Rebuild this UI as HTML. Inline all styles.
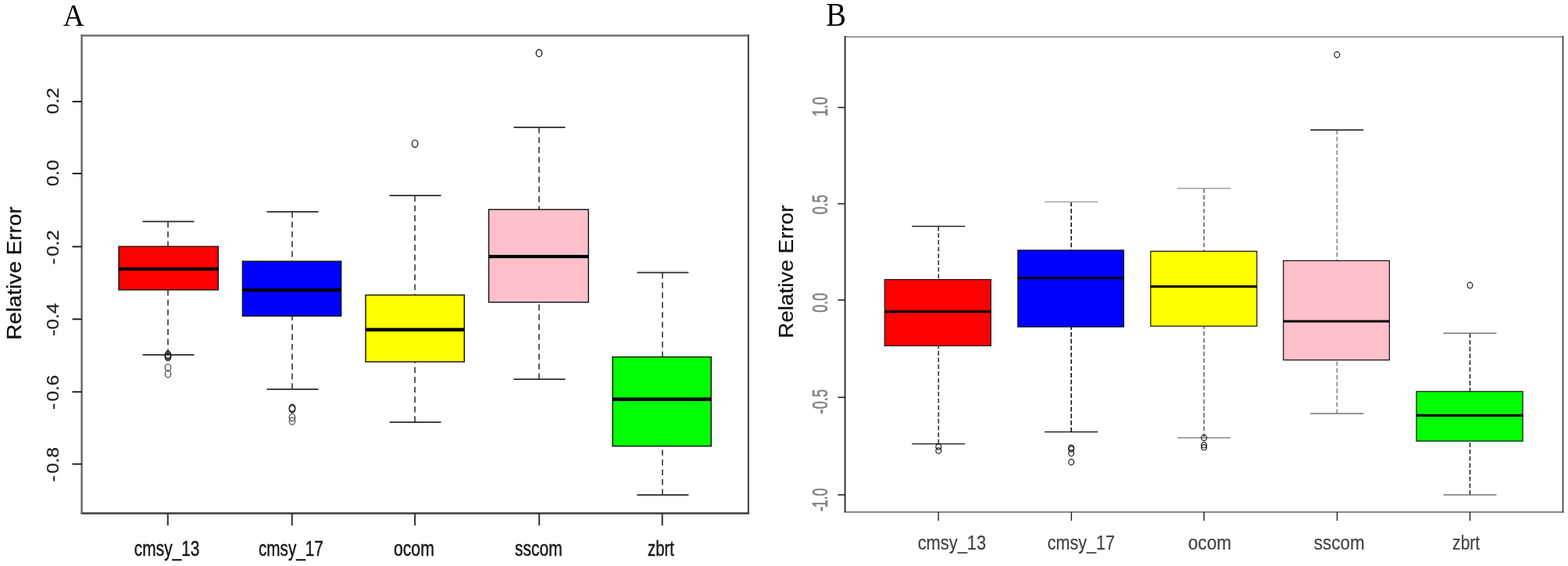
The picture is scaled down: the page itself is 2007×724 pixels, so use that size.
<!DOCTYPE html>
<html><head><meta charset="utf-8"><title>Relative Error boxplots</title>
<style>html,body{margin:0;padding:0;background:#fff;}svg{display:block;}</style></head>
<body><svg width="2007" height="724" viewBox="0 0 2007 724">
<rect width="2007" height="724" fill="#fff"/>
<text transform="translate(80.80 33.40) scale(0.9414 0.9923)" style="font-family:'Liberation Serif','Times New Roman',serif;font-size:40px;fill:#000;stroke:#000;stroke-width:0px">A</text>
<text transform="translate(1057.33 33.10) scale(0.9667 1.0462)" style="font-family:'Liberation Serif','Times New Roman',serif;font-size:40px;fill:#000;stroke:#000;stroke-width:0px">B</text>
<line x1="215" y1="283.4" x2="215" y2="315.3" stroke="#4a4a4a" stroke-width="1.8" stroke-dasharray="7.6 5"/>
<line x1="215" y1="453.8" x2="215" y2="370.8" stroke="#4a4a4a" stroke-width="1.8" stroke-dasharray="7.6 5"/>
<line x1="182.5" y1="283.4" x2="248.5" y2="283.4" stroke="#2a2a2a" stroke-width="1.8"/>
<line x1="182.5" y1="453.8" x2="248.5" y2="453.8" stroke="#2a2a2a" stroke-width="1.8"/>
<rect x="152" y="315.3" width="127.4" height="55.5" fill="#ff0000" stroke="#111" stroke-width="1.4"/>
<line x1="152" y1="344.1" x2="279.4" y2="344.1" stroke="#000" stroke-width="4.4"/>
<ellipse cx="215" cy="453.6" rx="3.7" ry="4.6" fill="none" stroke="#222" stroke-width="1.4"/>
<ellipse cx="215" cy="455.2" rx="3.7" ry="4.6" fill="none" stroke="#222" stroke-width="1.4"/>
<ellipse cx="215" cy="456.8" rx="3.7" ry="4.6" fill="none" stroke="#222" stroke-width="1.4"/>
<ellipse cx="215" cy="470.25" rx="3.7" ry="4.6" fill="none" stroke="#555" stroke-width="1.4"/>
<ellipse cx="215" cy="478.25" rx="3.7" ry="4.6" fill="none" stroke="#555" stroke-width="1.4"/>
<line x1="374" y1="270.8" x2="374" y2="334.2" stroke="#4a4a4a" stroke-width="1.8" stroke-dasharray="7.6 5"/>
<line x1="374" y1="497.9" x2="374" y2="404.3" stroke="#4a4a4a" stroke-width="1.8" stroke-dasharray="7.6 5"/>
<line x1="341.5" y1="270.8" x2="407.5" y2="270.8" stroke="#2a2a2a" stroke-width="1.8"/>
<line x1="341.5" y1="497.9" x2="407.5" y2="497.9" stroke="#2a2a2a" stroke-width="1.8"/>
<rect x="310.4" y="334.2" width="126.3" height="70.1" fill="#0000ff" stroke="#111" stroke-width="1.4"/>
<line x1="310.4" y1="371.1" x2="436.7" y2="371.1" stroke="#000" stroke-width="4.4"/>
<ellipse cx="374" cy="521.8" rx="3.7" ry="4.6" fill="none" stroke="#222" stroke-width="1.4"/>
<ellipse cx="374" cy="523.2" rx="3.7" ry="4.6" fill="none" stroke="#222" stroke-width="1.4"/>
<ellipse cx="374" cy="534" rx="3.7" ry="4.6" fill="none" stroke="#555" stroke-width="1.4"/>
<ellipse cx="374" cy="538.6" rx="3.7" ry="4.6" fill="none" stroke="#666" stroke-width="1.4"/>
<line x1="531.1" y1="250.1" x2="531.1" y2="377.4" stroke="#4a4a4a" stroke-width="1.8" stroke-dasharray="7.6 5"/>
<line x1="531.1" y1="540.1" x2="531.1" y2="462.8" stroke="#4a4a4a" stroke-width="1.8" stroke-dasharray="7.6 5"/>
<line x1="498.6" y1="250.1" x2="564.6" y2="250.1" stroke="#2a2a2a" stroke-width="1.8"/>
<line x1="498.6" y1="540.1" x2="564.6" y2="540.1" stroke="#2a2a2a" stroke-width="1.8"/>
<rect x="468" y="377.4" width="126.3" height="85.4" fill="#ffff00" stroke="#111" stroke-width="1.4"/>
<line x1="468" y1="421.7" x2="594.3" y2="421.7" stroke="#000" stroke-width="4.4"/>
<ellipse cx="531.1" cy="183.7" rx="3.7" ry="4.6" fill="none" stroke="#222" stroke-width="1.4"/>
<line x1="690" y1="162.9" x2="690" y2="268" stroke="#4a4a4a" stroke-width="1.8" stroke-dasharray="7.6 5"/>
<line x1="690" y1="485.2" x2="690" y2="386.6" stroke="#4a4a4a" stroke-width="1.8" stroke-dasharray="7.6 5"/>
<line x1="657.5" y1="162.9" x2="723.5" y2="162.9" stroke="#2a2a2a" stroke-width="1.8"/>
<line x1="657.5" y1="485.2" x2="723.5" y2="485.2" stroke="#2a2a2a" stroke-width="1.8"/>
<rect x="625.6" y="268" width="127.6" height="118.6" fill="#ffc0cb" stroke="#111" stroke-width="1.4"/>
<line x1="625.6" y1="328.1" x2="753.2" y2="328.1" stroke="#000" stroke-width="4.4"/>
<ellipse cx="690" cy="67.9" rx="3.7" ry="4.6" fill="none" stroke="#222" stroke-width="1.4"/>
<line x1="847.9" y1="348.6" x2="847.9" y2="456.6" stroke="#4a4a4a" stroke-width="1.8" stroke-dasharray="7.6 5"/>
<line x1="847.9" y1="633.2" x2="847.9" y2="570.7" stroke="#4a4a4a" stroke-width="1.8" stroke-dasharray="7.6 5"/>
<line x1="815.4" y1="348.6" x2="881.4" y2="348.6" stroke="#2a2a2a" stroke-width="1.8"/>
<line x1="815.4" y1="633.2" x2="881.4" y2="633.2" stroke="#2a2a2a" stroke-width="1.8"/>
<rect x="784.1" y="456.6" width="126.2" height="114.1" fill="#00ff00" stroke="#111" stroke-width="1.4"/>
<line x1="784.1" y1="510.7" x2="910.3" y2="510.7" stroke="#000" stroke-width="4.4"/>
<line x1="103.6" y1="45.5" x2="958.9" y2="45.5" stroke="#6e6e6e" stroke-width="2.6"/>
<line x1="103.6" y1="656.6" x2="958.9" y2="656.6" stroke="#4a4a4a" stroke-width="2.6"/>
<line x1="104.6" y1="44.5" x2="104.6" y2="657.6" stroke="#666" stroke-width="2.4"/>
<line x1="957.9" y1="44.5" x2="957.9" y2="657.6" stroke="#3c3c3c" stroke-width="2.0"/>
<line x1="92.5" y1="129.9" x2="104.6" y2="129.9" stroke="#181818" stroke-width="1.9"/>
<line x1="92.5" y1="221.9" x2="104.6" y2="221.9" stroke="#181818" stroke-width="1.9"/>
<line x1="92.5" y1="315.5" x2="104.6" y2="315.5" stroke="#181818" stroke-width="1.9"/>
<line x1="92.5" y1="408.3" x2="104.6" y2="408.3" stroke="#181818" stroke-width="1.9"/>
<line x1="92.5" y1="501.3" x2="104.6" y2="501.3" stroke="#181818" stroke-width="1.9"/>
<line x1="92.5" y1="593.6" x2="104.6" y2="593.6" stroke="#181818" stroke-width="1.9"/>
<line x1="214.8" y1="656.6" x2="214.8" y2="672.2" stroke="#333" stroke-width="2.0"/>
<line x1="373.8" y1="656.6" x2="373.8" y2="672.2" stroke="#333" stroke-width="2.0"/>
<line x1="531.1" y1="656.6" x2="531.1" y2="672.2" stroke="#333" stroke-width="2.0"/>
<line x1="690.2" y1="656.6" x2="690.2" y2="672.2" stroke="#333" stroke-width="2.0"/>
<line x1="847.7" y1="656.6" x2="847.7" y2="672.2" stroke="#333" stroke-width="2.0"/>
<text transform="translate(26.60 434.83) rotate(-90) scale(1.1634 1.0353)" style="font-family:'Liberation Sans',Arial,sans-serif;font-size:24px;fill:#111;stroke:#111;stroke-width:0.3px">Relative Error</text>
<text transform="translate(75.20 145.96) rotate(-90) scale(1.1069 1.0400)" style="font-family:'Liberation Sans',Arial,sans-serif;font-size:22px;fill:#1e1e1e;stroke:#1e1e1e;stroke-width:0.25px">0.2</text>
<text transform="translate(75.20 238.26) rotate(-90) scale(1.1069 1.0400)" style="font-family:'Liberation Sans',Arial,sans-serif;font-size:22px;fill:#1e1e1e;stroke:#1e1e1e;stroke-width:0.25px">0.0</text>
<text transform="translate(75.20 338.41) rotate(-90) scale(1.1069 1.0400)" style="font-family:'Liberation Sans',Arial,sans-serif;font-size:22px;fill:#1e1e1e;stroke:#1e1e1e;stroke-width:0.25px">-<tspan dx="2.03">0.2</tspan></text>
<text transform="translate(75.20 429.71) rotate(-90) scale(1.1069 1.0400)" style="font-family:'Liberation Sans',Arial,sans-serif;font-size:22px;fill:#1e1e1e;stroke:#1e1e1e;stroke-width:0.25px">-<tspan dx="0.04">0.4</tspan></text>
<text transform="translate(75.20 523.91) rotate(-90) scale(1.1069 1.0400)" style="font-family:'Liberation Sans',Arial,sans-serif;font-size:22px;fill:#1e1e1e;stroke:#1e1e1e;stroke-width:0.25px">-<tspan dx="2.03">0.6</tspan></text>
<text transform="translate(75.20 616.21) rotate(-90) scale(1.1069 1.0400)" style="font-family:'Liberation Sans',Arial,sans-serif;font-size:22px;fill:#1e1e1e;stroke:#1e1e1e;stroke-width:0.25px">-<tspan dx="2.12">0.8</tspan></text>
<text transform="translate(171.83 710.82) scale(0.7745 0.9960)" style="font-family:'Liberation Sans',Arial,sans-serif;font-size:27px;fill:#1a1a1a;stroke:#1a1a1a;stroke-width:0.5px">cmsy_13</text>
<text transform="translate(330.93 710.82) scale(0.7679 0.9960)" style="font-family:'Liberation Sans',Arial,sans-serif;font-size:27px;fill:#1a1a1a;stroke:#1a1a1a;stroke-width:0.5px">cmsy_17</text>
<text transform="translate(503.91 710.82) scale(0.7875 0.9960)" style="font-family:'Liberation Sans',Arial,sans-serif;font-size:27px;fill:#1a1a1a;stroke:#1a1a1a;stroke-width:0.5px">ocom</text>
<text transform="translate(658.92 710.82) scale(0.7803 0.9960)" style="font-family:'Liberation Sans',Arial,sans-serif;font-size:27px;fill:#1a1a1a;stroke:#1a1a1a;stroke-width:0.5px">sscom</text>
<text transform="translate(828.95 710.82) scale(0.7545 0.9960)" style="font-family:'Liberation Sans',Arial,sans-serif;font-size:27px;fill:#1a1a1a;stroke:#1a1a1a;stroke-width:0.5px">zbrt</text>
<line x1="1201.3" y1="289.6" x2="1201.3" y2="357.6" stroke="#333" stroke-width="1.6" stroke-dasharray="5.8 2.9"/>
<line x1="1201.3" y1="567.75" x2="1201.3" y2="442.3" stroke="#333" stroke-width="1.6" stroke-dasharray="5.8 2.9"/>
<line x1="1167.3" y1="289.6" x2="1235.3" y2="289.6" stroke="#222" stroke-width="1.5"/>
<line x1="1167.3" y1="567.75" x2="1235.3" y2="567.75" stroke="#333" stroke-width="1.5"/>
<rect x="1132.3" y="357.6" width="136" height="84.7" fill="#ff0000" stroke="#111" stroke-width="1.2"/>
<line x1="1132.3" y1="398.6" x2="1268.3" y2="398.6" stroke="#000" stroke-width="3.2"/>
<ellipse cx="1201.3" cy="571.5" rx="3.4" ry="3.7" fill="none" stroke="#1a1a1a" stroke-width="1.2"/>
<ellipse cx="1201.3" cy="576.5" rx="3.4" ry="3.7" fill="none" stroke="#1a1a1a" stroke-width="1.2"/>
<line x1="1371.2" y1="258.3" x2="1371.2" y2="320" stroke="#151515" stroke-width="1.6" stroke-dasharray="5.8 2.9"/>
<line x1="1371.2" y1="552.5" x2="1371.2" y2="418.1" stroke="#151515" stroke-width="1.6" stroke-dasharray="5.8 2.9"/>
<line x1="1337.2" y1="258.3" x2="1405.2" y2="258.3" stroke="#a8a8a8" stroke-width="1.5"/>
<line x1="1337.2" y1="552.5" x2="1405.2" y2="552.5" stroke="#222" stroke-width="1.5"/>
<rect x="1302.8" y="320" width="135.6" height="98.1" fill="#0000ff" stroke="#111" stroke-width="1.2"/>
<line x1="1302.8" y1="355.5" x2="1438.4" y2="355.5" stroke="#000" stroke-width="3.2"/>
<ellipse cx="1371.2" cy="572.8" rx="3.4" ry="3.7" fill="none" stroke="#1a1a1a" stroke-width="1.2"/>
<ellipse cx="1371.2" cy="574.5" rx="3.4" ry="3.7" fill="none" stroke="#1a1a1a" stroke-width="1.2"/>
<ellipse cx="1371.2" cy="579.8" rx="3.4" ry="3.7" fill="none" stroke="#1a1a1a" stroke-width="1.2"/>
<ellipse cx="1371.2" cy="591.1" rx="3.4" ry="3.7" fill="none" stroke="#1a1a1a" stroke-width="1.2"/>
<line x1="1541.1" y1="240.9" x2="1541.1" y2="321.4" stroke="#6a6a6a" stroke-width="1.6" stroke-dasharray="5.8 2.9"/>
<line x1="1541.1" y1="560" x2="1541.1" y2="417.2" stroke="#6a6a6a" stroke-width="1.6" stroke-dasharray="5.8 2.9"/>
<line x1="1507.1" y1="240.9" x2="1575.1" y2="240.9" stroke="#a0a0a0" stroke-width="1.5"/>
<line x1="1507.1" y1="560" x2="1575.1" y2="560" stroke="#888" stroke-width="1.5"/>
<rect x="1472.8" y="321.4" width="136" height="95.8" fill="#ffff00" stroke="#111" stroke-width="1.2"/>
<line x1="1472.8" y1="366.5" x2="1608.8" y2="366.5" stroke="#000" stroke-width="3.2"/>
<ellipse cx="1541.1" cy="560" rx="3.4" ry="3.7" fill="none" stroke="#1a1a1a" stroke-width="1.2"/>
<ellipse cx="1541.1" cy="569.3" rx="3.4" ry="3.7" fill="none" stroke="#1a1a1a" stroke-width="1.2"/>
<ellipse cx="1541.1" cy="572.3" rx="3.4" ry="3.7" fill="none" stroke="#1a1a1a" stroke-width="1.2"/>
<line x1="1711.3" y1="166.2" x2="1711.3" y2="333.5" stroke="#888" stroke-width="1.6" stroke-dasharray="5.8 2.9"/>
<line x1="1711.3" y1="529" x2="1711.3" y2="460.5" stroke="#888" stroke-width="1.6" stroke-dasharray="5.8 2.9"/>
<line x1="1677.3" y1="166.2" x2="1745.3" y2="166.2" stroke="#111" stroke-width="1.5"/>
<line x1="1677.3" y1="529" x2="1745.3" y2="529" stroke="#707070" stroke-width="1.5"/>
<rect x="1642.7" y="333.5" width="135.7" height="127" fill="#ffc0cb" stroke="#111" stroke-width="1.2"/>
<line x1="1642.7" y1="411" x2="1778.4" y2="411" stroke="#000" stroke-width="3.2"/>
<ellipse cx="1711.3" cy="69.9" rx="3.4" ry="3.7" fill="none" stroke="#1a1a1a" stroke-width="1.2"/>
<line x1="1881.5" y1="426.2" x2="1881.5" y2="500.8" stroke="#222" stroke-width="1.6" stroke-dasharray="5.8 2.9"/>
<line x1="1881.5" y1="633" x2="1881.5" y2="564.2" stroke="#222" stroke-width="1.6" stroke-dasharray="5.8 2.9"/>
<line x1="1847.5" y1="426.2" x2="1915.5" y2="426.2" stroke="#777" stroke-width="1.5"/>
<line x1="1847.5" y1="633" x2="1915.5" y2="633" stroke="#777" stroke-width="1.5"/>
<rect x="1813" y="500.8" width="136.1" height="63.4" fill="#00ff00" stroke="#111" stroke-width="1.2"/>
<line x1="1813" y1="531.3" x2="1949.1" y2="531.3" stroke="#000" stroke-width="3.2"/>
<ellipse cx="1881.5" cy="364.9" rx="3.4" ry="3.7" fill="none" stroke="#1a1a1a" stroke-width="1.2"/>
<line x1="1081.6" y1="47.1" x2="2000.5" y2="47.1" stroke="#a0a0a0" stroke-width="2.4"/>
<line x1="1081.6" y1="655" x2="2000.5" y2="655" stroke="#888" stroke-width="2.2"/>
<line x1="1081.6" y1="46" x2="1081.6" y2="655.5" stroke="#111" stroke-width="1.6"/>
<line x1="2000.5" y1="46" x2="2000.5" y2="656" stroke="#333" stroke-width="1.6"/>
<line x1="1072.4" y1="137.5" x2="1081.6" y2="137.5" stroke="#222" stroke-width="1.6"/>
<line x1="1072.4" y1="260.6" x2="1081.6" y2="260.6" stroke="#222" stroke-width="1.6"/>
<line x1="1072.4" y1="383.8" x2="1081.6" y2="383.8" stroke="#222" stroke-width="1.6"/>
<line x1="1072.4" y1="508.3" x2="1081.6" y2="508.3" stroke="#222" stroke-width="1.6"/>
<line x1="1072.4" y1="633" x2="1081.6" y2="633" stroke="#222" stroke-width="1.6"/>
<line x1="1201.2" y1="655" x2="1201.2" y2="666.2" stroke="#1e1e1e" stroke-width="1.4"/>
<line x1="1371.4" y1="655" x2="1371.4" y2="666.2" stroke="#1e1e1e" stroke-width="1.4"/>
<line x1="1541.1" y1="655" x2="1541.1" y2="666.2" stroke="#1e1e1e" stroke-width="1.4"/>
<line x1="1711.5" y1="655" x2="1711.5" y2="666.2" stroke="#1e1e1e" stroke-width="1.4"/>
<line x1="1881.5" y1="655" x2="1881.5" y2="666.2" stroke="#1e1e1e" stroke-width="1.4"/>
<text transform="translate(1015.20 432.72) rotate(-90) scale(1.1607 1.0529)" style="font-family:'Liberation Sans',Arial,sans-serif;font-size:24px;fill:#111;stroke:#111;stroke-width:0.2px">Relative Error</text>
<text transform="translate(1058.60 149.10) rotate(-90) scale(0.7000 1.0778)" style="font-family:'Liberation Sans',Arial,sans-serif;font-size:26px;fill:#80828c;stroke:#80828c;stroke-width:0.6px">1.0</text>
<text transform="translate(1058.60 274.35) rotate(-90) scale(0.7000 1.0778)" style="font-family:'Liberation Sans',Arial,sans-serif;font-size:26px;fill:#80828c;stroke:#80828c;stroke-width:0.6px">0.5</text>
<text transform="translate(1058.60 399.85) rotate(-90) scale(0.7000 1.0778)" style="font-family:'Liberation Sans',Arial,sans-serif;font-size:26px;fill:#80828c;stroke:#80828c;stroke-width:0.6px">0.0</text>
<text transform="translate(1058.60 529.50) rotate(-90) scale(0.7000 1.0778)" style="font-family:'Liberation Sans',Arial,sans-serif;font-size:26px;fill:#80828c;stroke:#80828c;stroke-width:0.6px">-<tspan dx="0.43">0.5</tspan></text>
<text transform="translate(1058.60 653.90) rotate(-90) scale(0.7000 1.0778)" style="font-family:'Liberation Sans',Arial,sans-serif;font-size:26px;fill:#80828c;stroke:#80828c;stroke-width:0.6px">-<tspan dx="-2.43">1.0</tspan></text>
<text transform="translate(1174.69 702.64) scale(0.8104 0.9600)" style="font-family:'Liberation Sans',Arial,sans-serif;font-size:27px;fill:#444;stroke:#444;stroke-width:0.25px">cmsy_13</text>
<text transform="translate(1340.80 702.64) scale(0.7981 0.9600)" style="font-family:'Liberation Sans',Arial,sans-serif;font-size:27px;fill:#444;stroke:#444;stroke-width:0.25px">cmsy_17</text>
<text transform="translate(1520.76 702.64) scale(0.8381 0.9600)" style="font-family:'Liberation Sans',Arial,sans-serif;font-size:27px;fill:#444;stroke:#444;stroke-width:0.25px">ocom</text>
<text transform="translate(1681.87 702.64) scale(0.8293 0.9600)" style="font-family:'Liberation Sans',Arial,sans-serif;font-size:27px;fill:#444;stroke:#444;stroke-width:0.25px">sscom</text>
<text transform="translate(1859.12 702.64) scale(0.7795 0.9600)" style="font-family:'Liberation Sans',Arial,sans-serif;font-size:27px;fill:#444;stroke:#444;stroke-width:0.25px">zbrt</text>
</svg></body></html>
